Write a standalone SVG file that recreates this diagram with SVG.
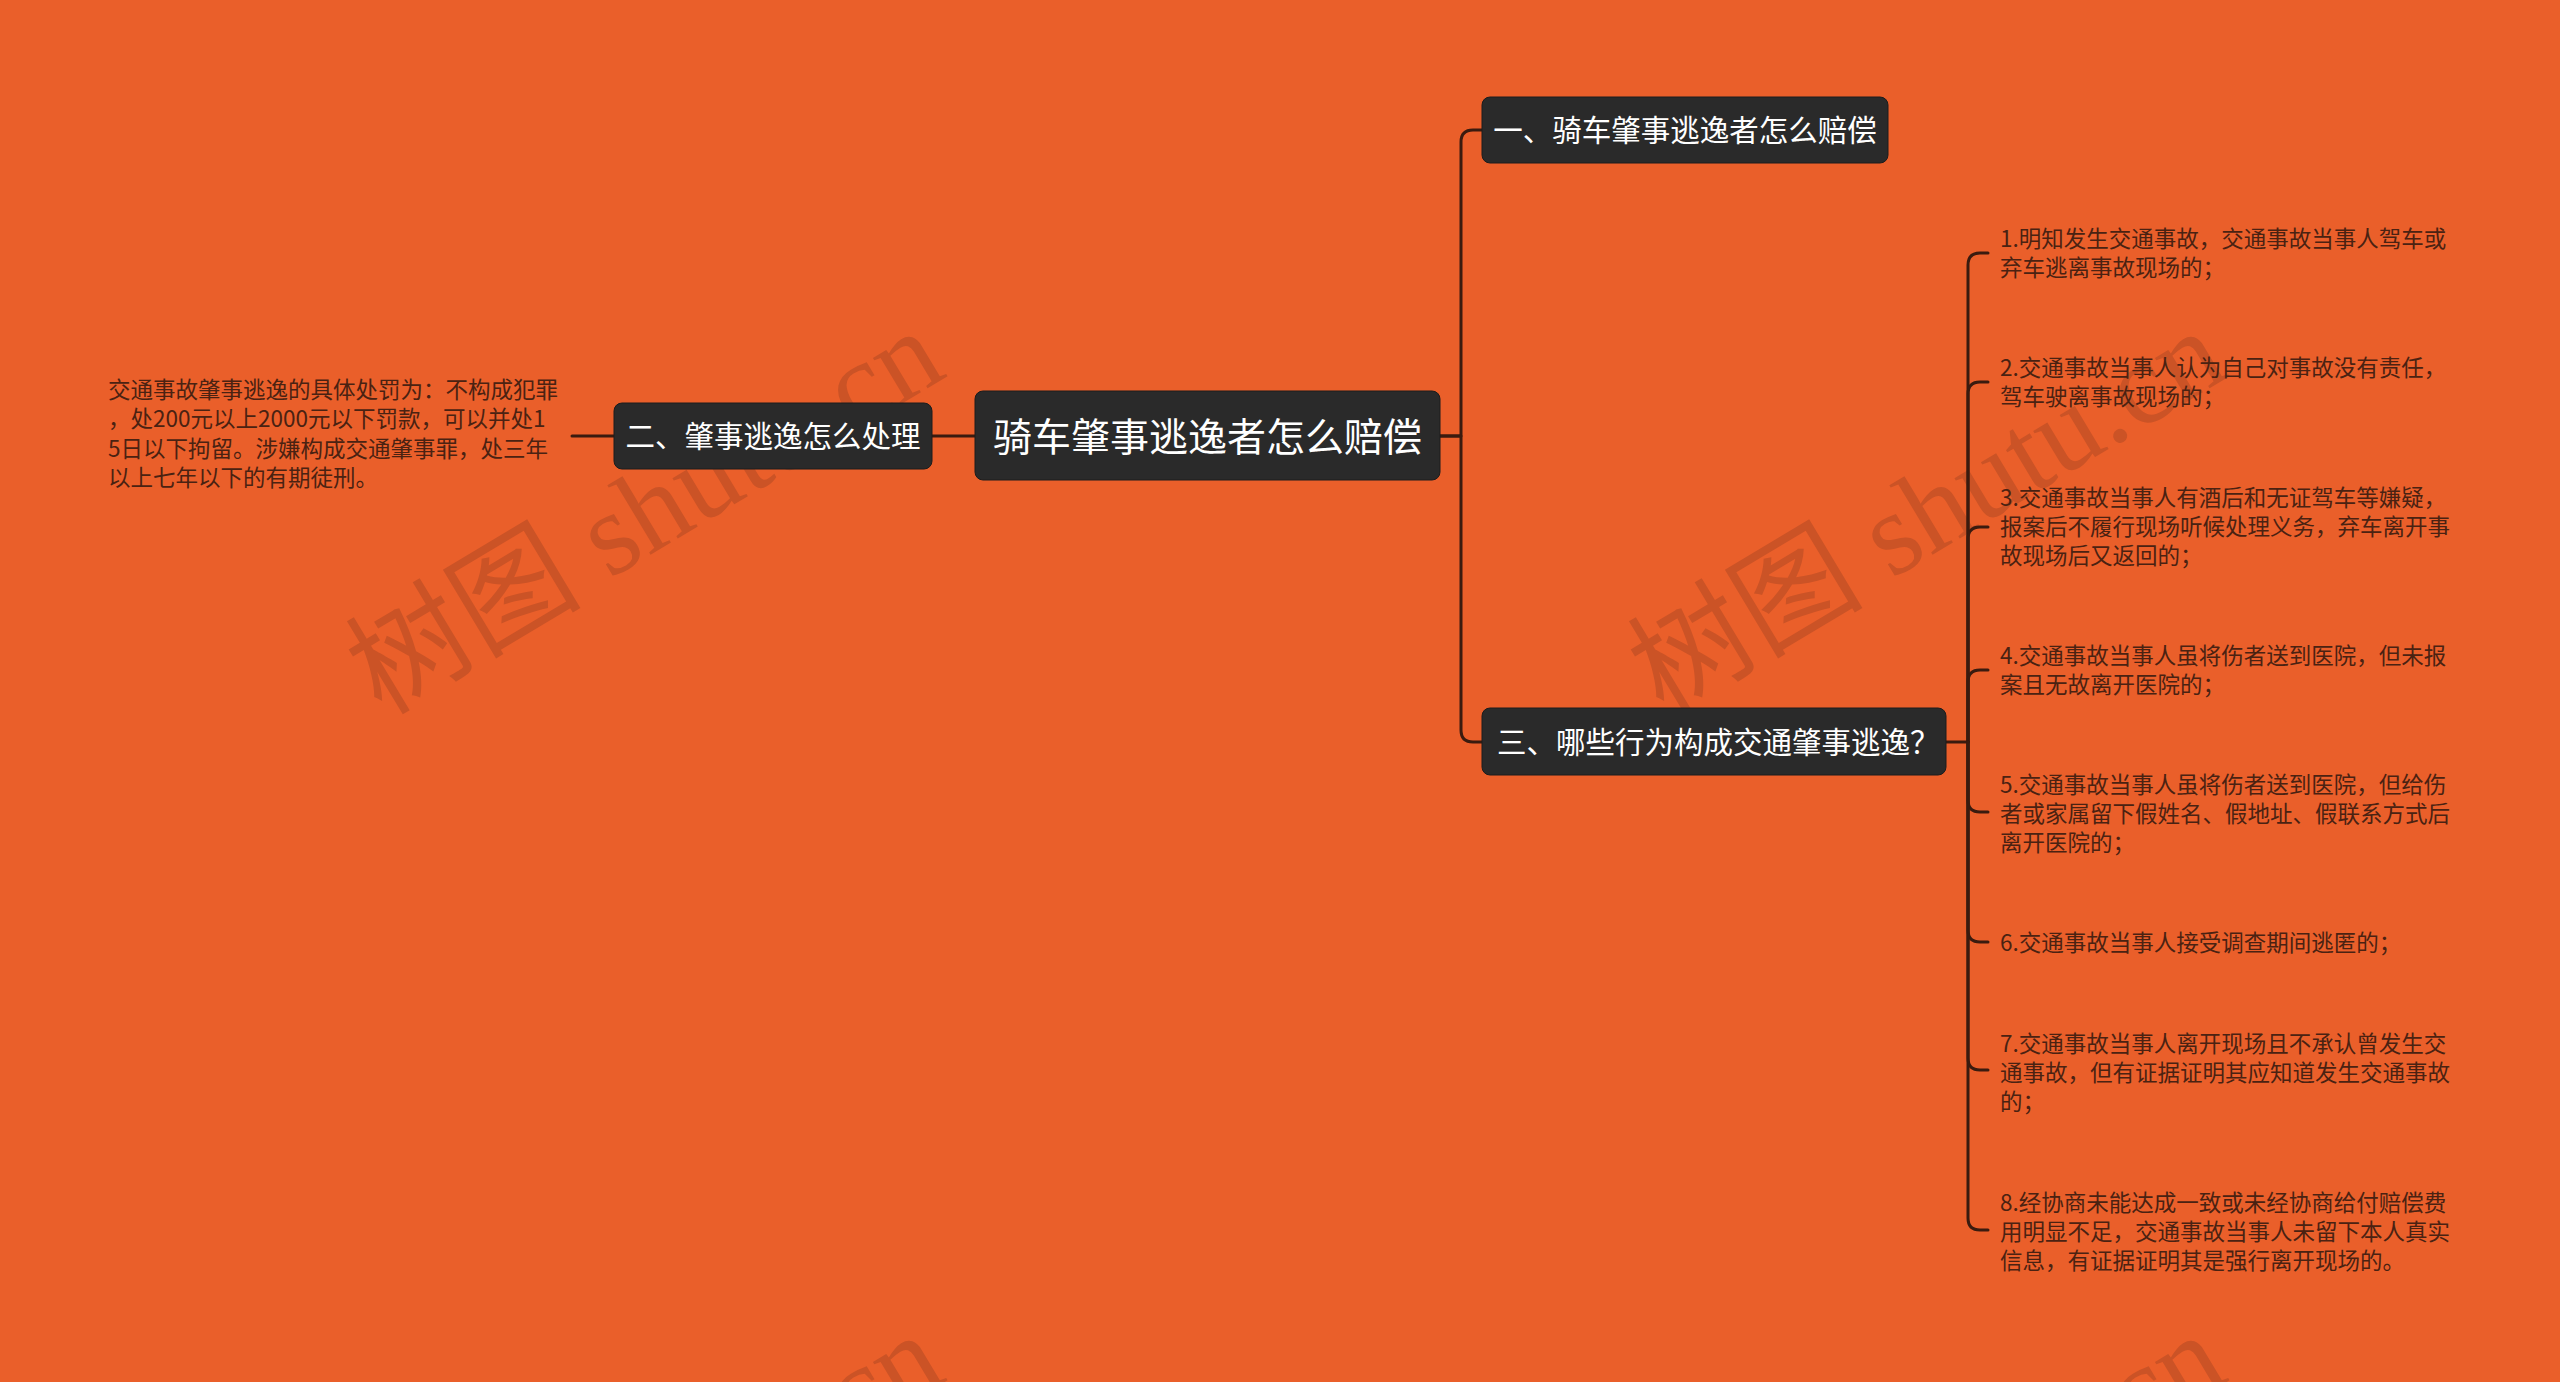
<svg xmlns="http://www.w3.org/2000/svg" width="2560" height="1382" viewBox="0 0 2560 1382">
<style>
.bg{fill:#EA5F2A}
.box{fill:#2A2A2A;stroke:#1C1C1C;stroke-width:1}
.t{font-family:"Noto Sans CJK SC","Noto Sans",sans-serif;dominant-baseline:central}
.wt{fill:#FFFFFF}
.root{font-size:39px}
.sub{font-size:29.5px}
.leaf{font-size:22.5px;fill:#4A2212}
.con{fill:none;stroke:#3A1B0F;stroke-width:3;stroke-linecap:round;stroke-linejoin:round}
.wm{font-family:"Liberation Serif","Noto Sans CJK SC",serif;font-size:118px;fill:#8B3A1E;opacity:0.32}
</style>
<rect class="bg" x="0" y="0" width="2560" height="1382"/>
<g id="watermarks">
<text class="wm" x="645" y="512" text-anchor="middle" dominant-baseline="central" transform="rotate(-31 645 512)">树图 shutu.cn</text>
<text class="wm" x="1927" y="512" text-anchor="middle" dominant-baseline="central" transform="rotate(-31 1927 512)">树图 shutu.cn</text>
<text class="wm" x="645" y="1516" text-anchor="middle" dominant-baseline="central" transform="rotate(-31 645 1516)">树图 shutu.cn</text>
<text class="wm" x="1927" y="1516" text-anchor="middle" dominant-baseline="central" transform="rotate(-31 1927 1516)">树图 shutu.cn</text>
</g>
<g id="connectors">
<path class="con" d="M1440,436 H1461 V142 Q1461,130 1473,130 H1482"/>
<path class="con" d="M1440,436 H1461 V730 Q1461,742 1473,742 H1482"/>
<path class="con" d="M975,436 H932"/>
<path class="con" d="M614,436 H572"/>
<path class="con" d="M1946,742 H1968 V265 Q1968,253 1980,253 H1988"/>
<path class="con" d="M1968,742 V394 Q1968,382 1980,382 H1988"/>
<path class="con" d="M1968,742 V539 Q1968,527 1980,527 H1988"/>
<path class="con" d="M1968,742 V682 Q1968,670 1980,670 H1988"/>
<path class="con" d="M1968,742 V800 Q1968,812 1980,812 H1988"/>
<path class="con" d="M1968,742 V930 Q1968,942 1980,942 H1988"/>
<path class="con" d="M1968,742 V1058 Q1968,1070 1980,1070 H1988"/>
<path class="con" d="M1968,742 V1218 Q1968,1230 1980,1230 H1988"/>
</g>
<g id="root">
<rect class="box" x="975" y="391" width="465" height="89" rx="8"/>
<text class="t wt root" x="1207.5" y="433.5" text-anchor="middle">骑车肇事逃逸者怎么赔偿</text>
</g>
<g id="sub1">
<rect class="box" x="1482" y="97" width="406" height="66" rx="8"/>
<text class="t wt sub" x="1685" y="128" text-anchor="middle">一、骑车肇事逃逸者怎么赔偿</text>
</g>
<g id="sub2">
<rect class="box" x="614" y="403" width="318" height="66" rx="8"/>
<text class="t wt sub" x="773" y="434" text-anchor="middle">二、肇事逃逸怎么处理</text>
</g>
<g id="sub3">
<rect class="box" x="1482" y="708" width="464" height="67" rx="8"/>
<text class="t wt sub" x="1497" y="740">三、哪些行为构成交通肇事逃逸？</text>
</g>
<g id="leaf-left">
<text class="t leaf" x="108"><tspan x="108" y="388">交通事故肇事逃逸的具体处罚为：不构成犯罪</tspan><tspan x="108" y="417.3">，处200元以上2000元以下罚款，可以并处1</tspan><tspan x="108" y="446.6">5日以下拘留。涉嫌构成交通肇事罪，处三年</tspan><tspan x="108" y="476">以上七年以下的有期徒刑。</tspan></text>
</g>
<g id="item1">
<text class="t leaf"><tspan x="2000" y="237">1.明知发生交通事故，交通事故当事人驾车或</tspan><tspan x="2000" y="266">弃车逃离事故现场的；</tspan></text>
</g>
<g id="item2">
<text class="t leaf"><tspan x="2000" y="366">2.交通事故当事人认为自己对事故没有责任，</tspan><tspan x="2000" y="395">驾车驶离事故现场的；</tspan></text>
</g>
<g id="item3">
<text class="t leaf"><tspan x="2000" y="496">3.交通事故当事人有酒后和无证驾车等嫌疑，</tspan><tspan x="2000" y="525">报案后不履行现场听候处理义务，弃车离开事</tspan><tspan x="2000" y="554">故现场后又返回的；</tspan></text>
</g>
<g id="item4">
<text class="t leaf"><tspan x="2000" y="654">4.交通事故当事人虽将伤者送到医院，但未报</tspan><tspan x="2000" y="683">案且无故离开医院的；</tspan></text>
</g>
<g id="item5">
<text class="t leaf"><tspan x="2000" y="783">5.交通事故当事人虽将伤者送到医院，但给伤</tspan><tspan x="2000" y="812">者或家属留下假姓名、假地址、假联系方式后</tspan><tspan x="2000" y="841">离开医院的；</tspan></text>
</g>
<g id="item6">
<text class="t leaf"><tspan x="2000" y="941">6.交通事故当事人接受调查期间逃匿的；</tspan></text>
</g>
<g id="item7">
<text class="t leaf"><tspan x="2000" y="1042">7.交通事故当事人离开现场且不承认曾发生交</tspan><tspan x="2000" y="1071">通事故，但有证据证明其应知道发生交通事故</tspan><tspan x="2000" y="1100">的；</tspan></text>
</g>
<g id="item8">
<text class="t leaf"><tspan x="2000" y="1201">8.经协商未能达成一致或未经协商给付赔偿费</tspan><tspan x="2000" y="1230">用明显不足，交通事故当事人未留下本人真实</tspan><tspan x="2000" y="1259">信息，有证据证明其是强行离开现场的。</tspan></text>
</g>
</svg>
